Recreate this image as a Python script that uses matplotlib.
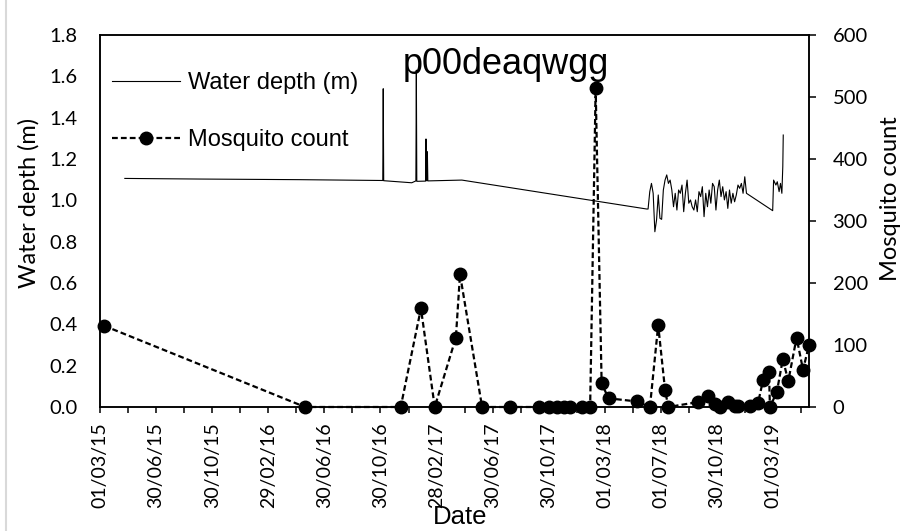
import numpy as np
import pandas as pd
import matplotlib
matplotlib.use('Agg')
import matplotlib.pyplot as plt
import matplotlib.dates as mdates
from matplotlib.lines import Line2D
from matplotlib.ticker import FixedLocator, FormatStrFormatter

plt.rcParams['font.family'] = ['Lato', 'DejaVu Sans']

# 水深记录：前段稀疏点
early_dates = ['2015-04-24', '2015-10-04', '2016-05-09', '2016-11-05', '2016-11-06',
               '2016-11-07', '2017-01-07', '2017-01-16', '2017-01-17', '2017-01-18',
               '2017-02-06', '2017-02-07', '2017-02-08', '2017-02-09', '2017-02-10',
               '2017-02-11', '2017-04-26', '2018-06-02']
early_depth = [1.106, 1.103, 1.100, 1.096, 1.540,
               1.095, 1.085, 1.094, 1.630, 1.092,
               1.093, 1.297, 1.095, 1.095, 1.235,
               1.094, 1.098, 0.958]

# 水深记录：2018-06 至 2019-01 连续段
dense_start = '2018-06-05'
dense_end = '2019-01-05'
dense_depth = [0.958, 1.042, 1.082, 1.034, 0.848, 0.905, 1.026, 0.913, 0.908, 1.050,
               1.098, 1.123, 1.082, 1.098, 1.050, 0.969, 1.034, 0.953, 1.050, 1.034,
               1.074, 0.945, 1.034, 1.098, 0.986, 1.002, 0.969, 0.953, 1.002, 0.945,
               1.042, 1.018, 1.066, 0.921, 1.034, 0.969, 1.050, 0.986, 1.082, 1.066,
               0.953, 1.050, 1.098, 1.018, 1.066, 1.002, 1.042, 0.961, 1.050, 0.986,
               1.034, 0.993, 1.026, 1.074, 1.058, 1.082, 1.034, 1.114, 1.034]

# 水深记录：2019-03 末段
late_dates = ['2019-03-03', '2019-03-05', '2019-03-10', '2019-03-13', '2019-03-17',
              '2019-03-20', '2019-03-23', '2019-03-25', '2019-03-26']
late_depth = [0.950, 1.098, 1.074, 1.090, 1.042, 1.082, 1.034, 1.163, 1.316]

# 蚊子数量
mosq_dates = ['2015-03-10', '2016-05-20', '2016-12-14', '2017-01-27', '2017-02-26',
              '2017-04-13', '2017-04-22', '2017-06-09', '2017-08-08', '2017-10-11',
              '2017-11-02', '2017-11-19', '2017-12-04', '2017-12-17', '2018-01-13',
              '2018-01-30', '2018-02-11', '2018-02-24', '2018-03-11', '2018-05-11',
              '2018-06-09', '2018-06-27', '2018-07-12', '2018-07-19', '2018-09-22',
              '2018-10-14', '2018-10-28', '2018-11-08', '2018-11-26', '2018-12-10',
              '2018-12-17', '2019-01-12', '2019-01-30', '2019-02-10', '2019-02-23',
              '2019-02-25', '2019-03-12', '2019-03-25', '2019-04-06', '2019-04-24',
              '2019-05-08', '2019-05-21']
mosq_count = [131, 0, 0, 159, 0,
              112, 214, 0, 0, 0,
              0, 0, 0, 0, 0,
              0, 514, 38, 14, 9,
              0, 132, 27, 0, 8,
              17, 5, 0, 8, 2,
              1, 2, 6, 43, 57,
              0, 24, 77, 42, 112,
              60, 100]

# 横轴刻度（每 122 天一个）
x_start = '2015-03-01'
x_end = '2019-05-21'
tick_step_days = 122
tick_labels = ['01/03/15', '30/06/15', '30/10/15', '29/02/16', '30/06/16', '30/10/16',
               '28/02/17', '30/06/17', '30/10/17', '01/03/18', '01/07/18', '30/10/18',
               '01/03/19']

depth_t = pd.to_datetime(early_dates).append(
    pd.date_range(dense_start, dense_end, periods=len(dense_depth))).append(
    pd.to_datetime(late_dates))
depth_v = early_depth + dense_depth + late_depth
mosq_t = pd.to_datetime(mosq_dates)

W, H = 905, 531
fig = plt.figure(figsize=(W / 100, H / 100), dpi=100)
ax = fig.add_axes([100 / W, 1 - 407 / H, 709 / W, 372 / H])
ax2 = ax.twinx()

ax.plot(depth_t, depth_v, color='black', lw=0.8)
ax2.plot(mosq_t, mosq_count, color='black', lw=1.6, ls=(0, (2.6, 1.4)),
         marker='o', ms=9, clip_on=False, zorder=3)

t0 = mdates.date2num(pd.Timestamp(x_start))
t1 = mdates.date2num(pd.Timestamp(x_end))
ax.set_xlim(t0, t1)
major = [t0 + tick_step_days * k for k in range(len(tick_labels))]
minor = [m + tick_step_days / 2 for m in major]
ax.xaxis.set_major_locator(FixedLocator(major))
ax.xaxis.set_minor_locator(FixedLocator(minor))
ax.set_xticklabels(tick_labels)
ax.tick_params(axis='x', which='both', direction='out', length=4.3, width=1.1,
               pad=7, labelrotation=90, labelsize=14)

ax.set_ylim(0, 1.8)
ax.set_yticks(np.arange(0, 1.81, 0.2))
ax.yaxis.set_major_formatter(FormatStrFormatter('%.1f'))
ax.tick_params(axis='y', length=0, pad=16, labelsize=14.5)

ax2.set_ylim(0, 600)
ax2.set_yticks(range(0, 601, 100))
ax2.tick_params(axis='y', direction='out', length=5, width=1.1, pad=12, labelsize=14.5)

for a in (ax, ax2):
    for sp in a.spines.values():
        sp.set_linewidth(1.1)
        sp.set_color('black')

# 轴标题
fig.text(29 / W, 1 - 203 / H, 'Water depth (m)', rotation=90, ha='center', va='center',
         fontsize=17)
fig.text(890 / W, 1 - 199 / H, 'Mosquito count', rotation=90, ha='center', va='center',
         fontsize=17)
fig.text(460 / W, 1 - 517 / H, 'Date', ha='center', va='center', fontsize=18.5,
         family='Liberation Sans')
fig.text(506 / W, 1 - 74 / H, 'p00deaqwgg', ha='center', va='baseline', fontsize=26,
         family='Liberation Sans')

# 图例
handles = [Line2D([], [], color='black', lw=0.8),
           Line2D([], [], color='black', lw=1.6, ls=(0, (2.6, 1.4)), marker='o', ms=9)]
ax2.legend(handles, ['Water depth (m)', 'Mosquito count'], loc='upper left',
           bbox_to_anchor=(112 / W, 1 - 72 / H), bbox_transform=fig.transFigure,
           frameon=False, prop={'family': 'Liberation Sans', 'size': 17},
           handlelength=2.9, handletextpad=0.3, labelspacing=1.5,
           borderpad=0, borderaxespad=0)

# 左侧灰色边线
fig.add_artist(Line2D([6 / W, 6 / W], [0, 1], transform=fig.transFigure,
                      color='#d9d9d9', lw=1.5))

fig.savefig('out.png', dpi=100)
